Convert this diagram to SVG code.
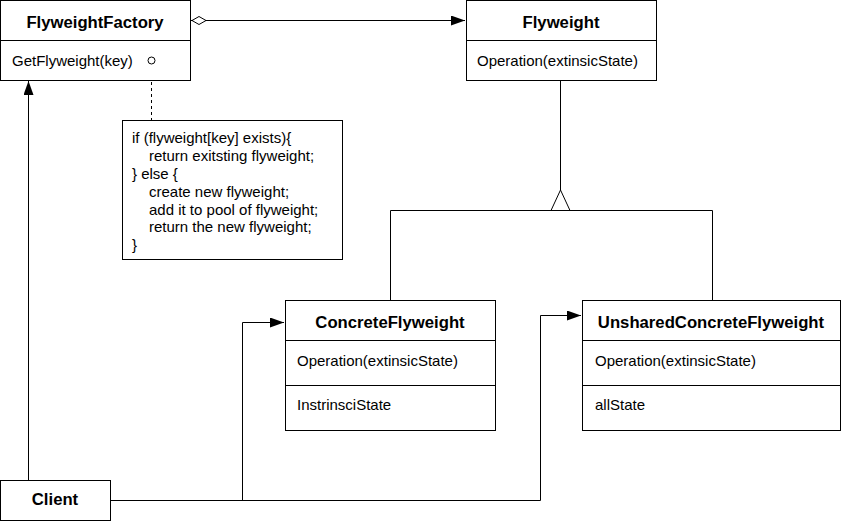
<svg xmlns="http://www.w3.org/2000/svg" width="843" height="521" viewBox="0 0 843 521">
<style>
.box{fill:#fff;stroke:#000;stroke-width:1}
.ln{fill:none;stroke:#000;stroke-width:1}
.t{font-family:"Liberation Sans",Arial,sans-serif;font-size:16.7px;font-weight:bold;fill:#000;text-anchor:middle}
.m{font-family:"Liberation Sans",Arial,sans-serif;font-size:15px;fill:#000}
</style>
<defs>
<marker id="arr" viewBox="0 0 14 10" refX="14" refY="5" markerWidth="14" markerHeight="10" markerUnits="userSpaceOnUse" orient="auto">
<path d="M0,0 L14,5 L0,10 Z" fill="#000"/>
</marker>
<marker id="dia" viewBox="0 0 16 10" refX="0" refY="5" markerWidth="16" markerHeight="10" markerUnits="userSpaceOnUse" orient="auto">
<path d="M1,5 L8,1 L15,5 L8,9 Z" fill="#fff" stroke="#000"/>
</marker>
</defs>
<rect width="843" height="521" fill="#fff"/>
<g id="connectors">
<path class="ln" d="M191,20.5 L465,20.5" marker-start="url(#dia)" marker-end="url(#arr)"/>
<path class="ln" d="M560.5,80 L560.5,190"/>
<path class="ln" d="M390.5,300 L390.5,210.5 L712.5,210.5 L712.5,300"/>
<path d="M560.5,190 L551,210.5 L570,210.5 Z" fill="#fff" stroke="#000"/>
<path class="ln" d="M28.5,480 L28.5,81" marker-end="url(#arr)"/>
<path class="ln" d="M110,500.5 L540.5,500.5 L540.5,315.5 L581,315.5" marker-end="url(#arr)"/>
<path class="ln" d="M242.5,500.5 L242.5,322.5 L284,322.5" marker-end="url(#arr)"/>
<path class="ln" d="M151.5,64 L151.5,120" stroke-dasharray="3,3"/>
</g>
<g id="FlyweightFactory">
<rect class="box" x="0.5" y="0.5" width="190" height="80"/>
<line class="ln" x1="0.5" y1="40.5" x2="190.5" y2="40.5"/>
<text class="t" x="95" y="28">FlyweightFactory</text>
<text class="m" x="12" y="66">GetFlyweight(key)</text>
<circle cx="151.5" cy="60.5" r="3.5" fill="#fff" stroke="#000"/>
</g>
<g id="Flyweight">
<rect class="box" x="466.5" y="0.5" width="190" height="80"/>
<line class="ln" x1="466.5" y1="40.5" x2="656.5" y2="40.5"/>
<text class="t" x="561" y="28">Flyweight</text>
<text class="m" x="477" y="66">Operation(extinsicState)</text>
</g>
<g id="Note">
<rect class="box" x="122.5" y="120.5" width="220" height="139"/>
<text class="m" x="132" y="143">if (flyweight[key] exists){</text>
<text class="m" x="149" y="161">return exitsting flyweight;</text>
<text class="m" x="132" y="179">} else {</text>
<text class="m" x="149" y="197">create new flyweight;</text>
<text class="m" x="149" y="215">add it to pool of flyweight;</text>
<text class="m" x="149" y="232">return the new flyweight;</text>
<text class="m" x="132" y="250">}</text>
</g>
<g id="ConcreteFlyweight">
<rect class="box" x="285.5" y="300.5" width="210" height="130"/>
<line class="ln" x1="285.5" y1="340.5" x2="495.5" y2="340.5"/>
<line class="ln" x1="285.5" y1="385.5" x2="495.5" y2="385.5"/>
<text class="t" x="390" y="328">ConcreteFlyweight</text>
<text class="m" x="297" y="366">Operation(extinsicState)</text>
<text class="m" x="297" y="410">InstrinsciState</text>
</g>
<g id="UnsharedConcreteFlyweight">
<rect class="box" x="582.5" y="300.5" width="258" height="130"/>
<line class="ln" x1="582.5" y1="340.5" x2="840.5" y2="340.5"/>
<line class="ln" x1="582.5" y1="385.5" x2="840.5" y2="385.5"/>
<text class="t" x="711" y="328">UnsharedConcreteFlyweight</text>
<text class="m" x="595" y="366">Operation(extinsicState)</text>
<text class="m" x="595" y="410">allState</text>
</g>
<g id="Client">
<rect class="box" x="0.5" y="480.5" width="110" height="40"/>
<text class="t" x="55" y="505">Client</text>
</g>
</svg>
